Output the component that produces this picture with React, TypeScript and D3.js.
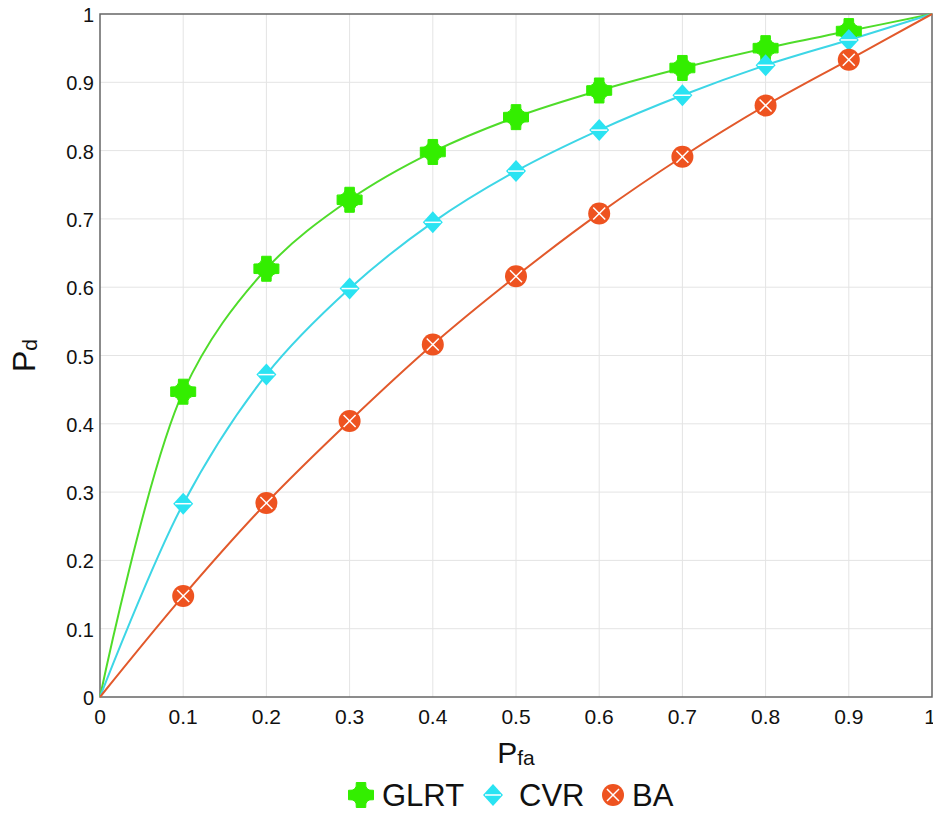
import React from 'react';
import * as d3 from 'd3';

const pfa = [0, 0.1, 0.2, 0.3, 0.4, 0.5, 0.6, 0.7, 0.8, 0.9, 1];
const glrt = [0, 0.447, 0.627, 0.728, 0.798, 0.849, 0.888, 0.921, 0.950, 0.975, 1];
const cvr = [0, 0.283, 0.472, 0.598, 0.695, 0.770, 0.830, 0.881, 0.925, 0.962, 1];
const ba = [0, 0.148, 0.284, 0.404, 0.516, 0.616, 0.708, 0.791, 0.866, 0.933, 1];
const ticks = [0, 0.1, 0.2, 0.3, 0.4, 0.5, 0.6, 0.7, 0.8, 0.9, 1];

const W = 933;
const H = 814;
const margin = { left: 100, right: 1, top: 14, bottom: 117 };
const font = 'Arial, "Liberation Sans", sans-serif';

// 4-point star with concave sides (GLRT marker)
const starPath = (r: number) => {
  const a = r * 0.38;
  const c = r * 0.3;
  return `M${-a},${-r} L${a},${-r} Q${c},${-c} ${r},${-a} L${r},${a} Q${c},${c} ${a},${r} L${-a},${r} Q${-c},${c} ${-r},${a} L${-r},${-a} Q${-c},${-c} ${-a},${-r} Z`;
};

const Marker = ({ kind, x, y }: { kind: string; x: number; y: number }) => {
  if (kind === 'glrt') {
    return <path d={starPath(12.5)} transform={`translate(${x},${y})`} fill="#33ee00" stroke="#33ee00" strokeWidth={1} strokeLinejoin="round" />;
  }
  if (kind === 'cvr') {
    return (
      <g transform={`translate(${x},${y})`}>
        <path d="M0,-11 L10,0 L0,11 L-10,0 Z" fill="#2ae3f2" />
        <line x1={-8} x2={8} y1={0} y2={0} stroke="#fff" strokeWidth={1.5} />
      </g>
    );
  }
  return (
    <g transform={`translate(${x},${y})`}>
      <circle r={11} fill="#ee5320" />
      <line x1={-6} y1={-6} x2={6} y2={6} stroke="#fff" strokeWidth={1.5} />
      <line x1={-6} y1={6} x2={6} y2={-6} stroke="#fff" strokeWidth={1.5} />
    </g>
  );
};

export default function App() {
  const x = d3.scaleLinear().domain([0, 1]).range([margin.left, W - margin.right]);
  const y = d3.scaleLinear().domain([0, 1]).range([H - margin.bottom, margin.top]);
  const line = d3.line<number>()
    .x((_, i) => x(pfa[i]))
    .y(d => y(d))
    .curve(d3.curveCatmullRom.alpha(0.5));

  const series = [
    { key: 'glrt', name: 'GLRT', values: glrt, color: '#4fdc2a' },
    { key: 'cvr', name: 'CVR', values: cvr, color: '#3dd6e6' },
    { key: 'ba', name: 'BA', values: ba, color: '#e2592b' },
  ];

  const x0 = x(0), x1 = x(1), y0 = y(0), y1 = y(1);

  return (
    <svg width={W} height={H} style={{ position: 'absolute', left: 0, top: 0, background: '#fff' }} fontFamily={font}>
      {ticks.slice(1, -1).map(t => (
        <g key={t}>
          <line x1={x(t)} x2={x(t)} y1={y1} y2={y0} stroke="#e4e4e4" strokeWidth={1} />
          <line x1={x0} x2={x1} y1={y(t)} y2={y(t)} stroke="#e4e4e4" strokeWidth={1} />
        </g>
      ))}
      <rect x={x0} y={y1} width={x1 - x0} height={y0 - y1} fill="none" stroke="#666" strokeWidth={1.5} />
      {ticks.map(t => (
        <text key={'x' + t} x={t === 1 ? x(t) - 2 : x(t)} y={y0 + 27} textAnchor="middle" fontSize={21} fill="#111">{t}</text>
      ))}
      {ticks.map(t => (
        <text key={'y' + t} x={x0 - 6} y={y(t) + 8} textAnchor="end" fontSize={20} fill="#111">{t}</text>
      ))}
      {series.map(s => (
        <path key={s.key} d={line(s.values) || ''} fill="none" stroke={s.color} strokeWidth={2} />
      ))}
      {series.map(s => s.values.map((v, i) => (i > 0 && i < pfa.length - 1)
        ? <Marker key={s.key + i} kind={s.key} x={x(pfa[i])} y={y(v)} />
        : null))}
      <text transform={`translate(35,${(y0 + y1) / 2}) rotate(-90)`} textAnchor="middle" fontSize={32} fill="#111">
        P<tspan fontSize={21} dy={2}>d</tspan>
      </text>
      <text x={(x0 + x1) / 2} y={763} textAnchor="middle" fontSize={30} fill="#111">
        P<tspan fontSize={21} dy={2}>fa</tspan>
      </text>
      {[
        { key: 'glrt', name: 'GLRT', mx: 361, tx: 382 },
        { key: 'cvr', name: 'CVR', mx: 493, tx: 519 },
        { key: 'ba', name: 'BA', mx: 613, tx: 632 },
      ].map(l => (
        <g key={l.key}>
          <Marker kind={l.key} x={l.mx} y={795} />
          <text x={l.tx} y={806} fontSize={31} fill="#111">{l.name}</text>
        </g>
      ))}
    </svg>
  );
}
